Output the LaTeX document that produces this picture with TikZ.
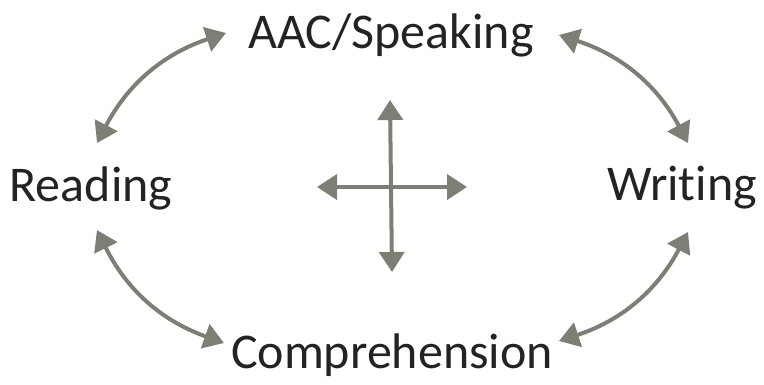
\documentclass[tikz,border=0pt]{standalone}
\usepackage{fontspec}
\setmainfont[Ligatures=NoCommon]{Carlito}
\usetikzlibrary{arrows.meta}
\definecolor{arrowgray}{RGB}{125,127,117}
\definecolor{txtgray}{RGB}{35,35,35}
\tikzset{
  lbl/.style={font=\fontsize{50}{56}\selectfont, text=txtgray, inner sep=0pt},
  dbl/.style={draw=arrowgray, line width=4pt,
    {Triangle[length=20pt,width=25pt]}-{Triangle[length=20pt,width=25pt]}},
}
\begin{document}
\begin{tikzpicture}[x=1pt,y=1pt]
\useasboundingbox (0,0) rectangle (764,384);
\node[lbl] (aac) at (391,349) {AAC/Speaking};
\node[lbl] (read) at (91,196) {Reading};
\node[lbl] (writ) at (682,196) {Writing};
\node[lbl] (comp) at (392,29) {Comprehension};
% arc endpoints
\coordinate (tl1) at (97,241);
\coordinate (tl2) at (226,351);
\coordinate (tr1) at (559,349);
\coordinate (tr2) at (688,241);
\coordinate (bl1) at (97,154);
\coordinate (bl2) at (224,41);
\coordinate (br1) at (688,152);
\coordinate (br2) at (559,43);
\draw[dbl] (tl1) to[bend left=22] (tl2);
\draw[dbl] (tr1) to[bend left=22] (tr2);
\draw[dbl] (br1) to[bend left=22] (br2);
\draw[dbl] (bl2) to[bend left=22] (bl1);
% cross
\coordinate (cu) at (390,284);
\coordinate (cd) at (392,112);
\coordinate (cl) at (317,197);
\coordinate (cr) at (467,197);
\draw[dbl] (cd) -- (cu);
\draw[dbl] (cl) -- (cr);
\end{tikzpicture}
\end{document}
